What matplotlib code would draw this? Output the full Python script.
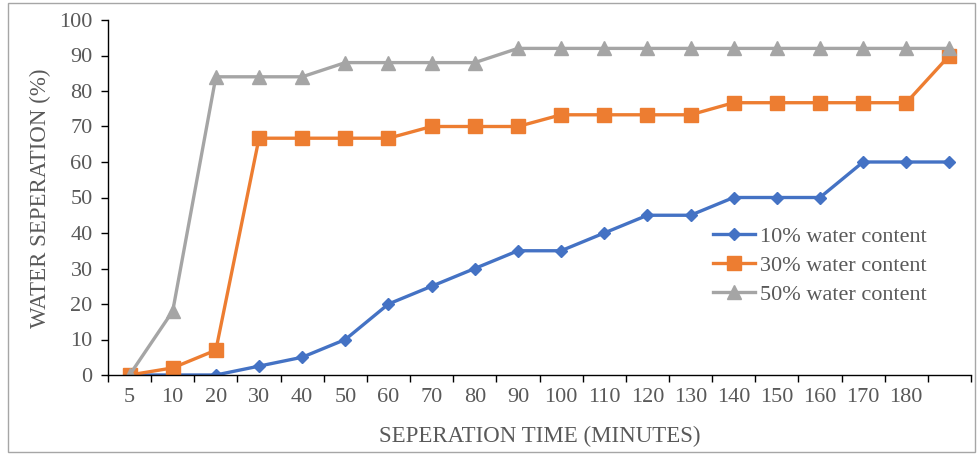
import numpy as np
import matplotlib
matplotlib.use("Agg")
import matplotlib.pyplot as plt
from matplotlib.patches import Rectangle

x_labels = ["5", "10", "20", "30", "40", "50", "60", "70", "80", "90", "100",
            "110", "120", "130", "140", "150", "160", "170", "180", ""]
water10 = [0, 0, 0, 2.5, 5, 10, 20, 25, 30, 35, 35, 40, 45, 45, 50, 50, 50, 60, 60, 60]
water30 = [0, 2, 7, 66.7, 66.7, 66.7, 66.7, 70, 70, 70, 73.3, 73.3, 73.3, 73.3,
           76.7, 76.7, 76.7, 76.7, 76.7, 90]
water50 = [0, 18, 84, 84, 84, 88, 88, 88, 88, 92, 92, 92, 92, 92, 92, 92, 92, 92, 92, 92]
series_names = ["10% water content", "30% water content", "50% water content"]
y_ticks = list(range(0, 101, 10))

plt.rcParams['font.family'] = ['Liberation Serif', 'DejaVu Serif']
text_color = '#595959'

W, H = 978, 455
fig = plt.figure(figsize=(W / 100, H / 100), dpi=100)
ax = fig.add_axes([108 / W, 1 - 375 / H, (971 - 108) / W, (375 - 20) / H])

x = np.arange(len(x_labels))
ax.plot(x, water10, color='#4472C4', lw=2.4, marker='D', ms=6.5, label=series_names[0])
ax.plot(x, water30, color='#ED7D31', lw=2.4, marker='s', ms=9.5, label=series_names[1])
ax.plot(x, water50, color='#A5A5A5', lw=2.4, marker='^', ms=10, label=series_names[2])

ax.set_xlim(-0.5, len(x_labels) - 0.5)
ax.set_ylim(0, 100)
ax.set_yticks(y_ticks)
ax.tick_params(axis='y', direction='out', length=5, width=1, colors='black',
               labelcolor=text_color, labelsize=16, pad=6)
ax.set_xticks(np.arange(len(x_labels) + 1) - 0.5)
ax.set_xticklabels([])
ax.set_xticks(x, minor=True)
ax.set_xticklabels(x_labels, minor=True)
ax.tick_params(axis='x', which='major', direction='out', length=5, width=1, colors='black')
ax.tick_params(axis='x', which='minor', length=0, labelcolor=text_color, labelsize=16, pad=9)

for s in ['top', 'right']:
    ax.spines[s].set_visible(False)
for s in ['left', 'bottom']:
    ax.spines[s].set_color('black')
    ax.spines[s].set_linewidth(1)

fig.text(540 / W, 1 - 436 / H, "SEPERATION TIME (MINUTES)", ha='center', va='center',
         fontsize=16.5, color=text_color)
fig.text(40 / W, 1 - 198 / H, "WATER SEPERATION (%)", ha='center', va='center',
         rotation=90, fontsize=16.5, color=text_color)

leg = ax.legend(loc='upper left', bbox_to_anchor=(713 / W, 1 - 226 / H),
                bbox_transform=fig.transFigure, frameon=False, fontsize=16,
                handlelength=1.9, handletextpad=0.2, borderpad=0, borderaxespad=0,
                labelspacing=0.38)
for t in leg.get_texts():
    t.set_color(text_color)

fig.patches.append(Rectangle((8 / W, 3 / H), (975 - 8) / W, (452 - 3) / H,
                             transform=fig.transFigure, fill=False,
                             edgecolor='#a6a6a6', linewidth=1))

fig.savefig("out.png", dpi=100)
